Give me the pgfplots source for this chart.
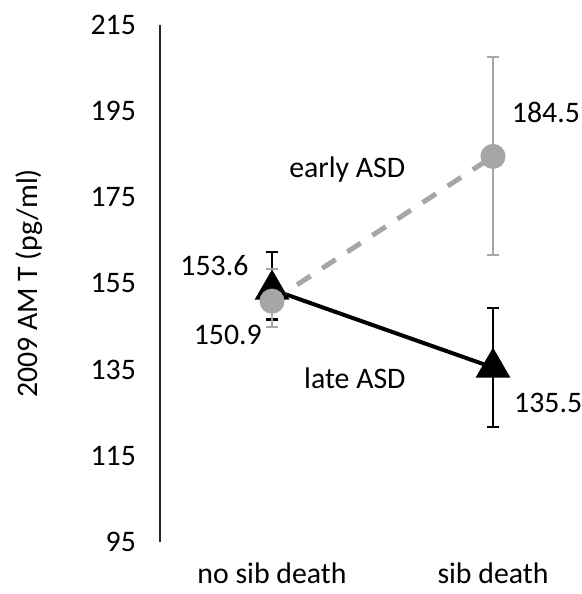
\documentclass[border=0pt]{standalone}
\usepackage{fontspec}
\setmainfont{Carlito}
\usepackage{pgfplots}
\pgfplotsset{compat=1.18}
\definecolor{gr}{RGB}{166,166,166}
\begin{document}
\begin{tikzpicture}[font=\fontsize{14.9}{18}\selectfont]
\begin{axis}[
 scale only axis, width=210.7pt, height=258.5pt,
 xmin=-0.507, xmax=1.4, ymin=95, ymax=215,
 axis y line*=left, axis x line*=bottom,
 x axis line style={draw=none},
 y axis line style={line width=0.8pt, draw=black!85},
 xtick={0,1}, xticklabels={no sib death, sib death},
 ytick={95,115,...,215},
 major tick length=0,
 /pgf/number format/assume math mode=true,
 yticklabel style={xshift=-8.5pt},
 xticklabel style={yshift=-9pt, inner sep=1pt},
 ylabel={2009 AM T (pg/ml)},
 ylabel style={at={(axis description cs:-0.31,0.5)}, anchor=center},
 clip=false,
]
\coordinate (bl) at (rel axis cs:0,0);
\addplot[black, line width=2pt, mark=triangle*, mark size=8pt, mark options={solid},
  error bars/.cd, y dir=both, y explicit,
  error bar style={line width=1.2pt, solid},
  error mark options={rotate=90, mark size=3.2pt, line width=1.2pt}]
  coordinates {(0,153.6) += (0,8.7) -= (0,7) (1,135.5) +- (0,13.8)};
\addplot[gr, line width=2.5pt, dash pattern=on 8pt off 7pt, mark=*, mark size=5pt, mark options={solid, fill=gr},
  error bars/.cd, y dir=both, y explicit,
  error bar style={line width=1pt, solid},
  error mark options={rotate=90, mark size=3.2pt, line width=1pt}]
  coordinates {(0,150.9) += (0,7.5) -= (0,6) (1,184.5) +- (0,23)};
\node[anchor=east] at (axis cs:-0.075,159.1) {153.6};
\node[anchor=center] at (axis cs:-0.20,143.1) {150.9};
\node[anchor=west, inner sep=1pt] at (axis cs:1.075,194.8) {184.5};
\node[anchor=west, inner sep=1pt] at (axis cs:1.085,127.3) {135.5};
\node[anchor=center] at (axis cs:0.34,181.4) {early ASD};
\node[anchor=center] at (axis cs:0.375,133.1) {late ASD};
\end{axis}
\pgfresetboundingbox
\useasboundingbox (bl) ++(-80pt,-26pt) rectangle ++(291pt,297pt);
\end{tikzpicture}
\end{document}
